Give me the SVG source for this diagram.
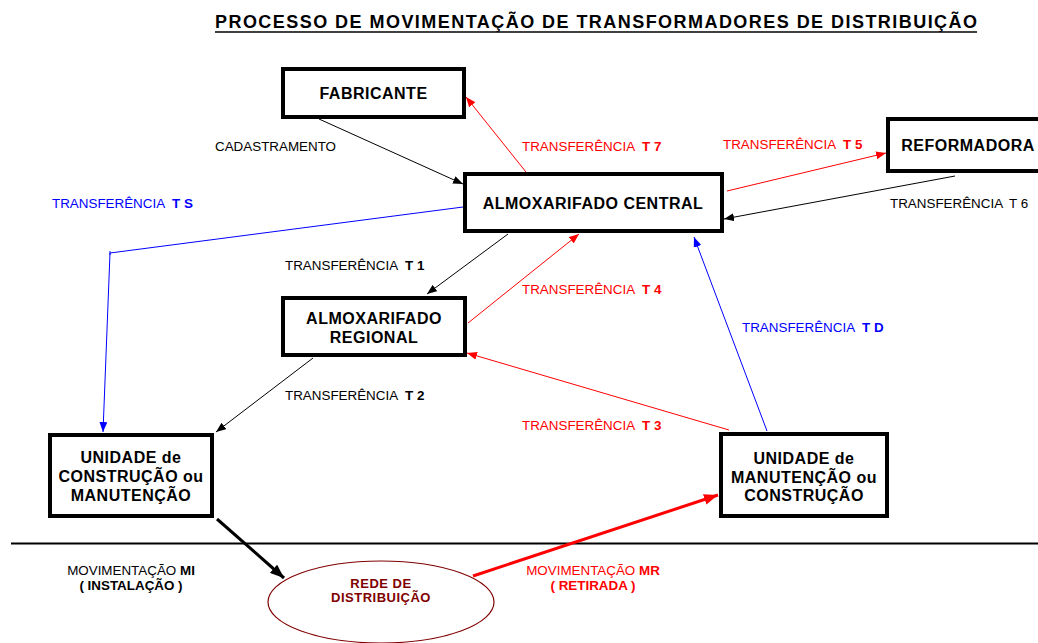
<svg xmlns="http://www.w3.org/2000/svg" width="1038" height="643" viewBox="0 0 1038 643">
<style>
.box{fill:#fff;stroke:#000;stroke-width:4}
.nt{font-family:"Liberation Sans",Arial,sans-serif;font-size:16px;font-weight:bold;letter-spacing:0.5px;fill:#000;text-anchor:middle}
.lb{font-family:"Liberation Sans",Arial,sans-serif;font-size:13.4px;fill:#000}
.b{font-weight:bold}
.red{fill:#ff0000}
.blue{fill:#0000ff}
.c{text-anchor:middle}
.ln{fill:none;stroke-width:1}
</style>
<defs>
<marker id="ak" markerUnits="userSpaceOnUse" markerWidth="10" markerHeight="8" refX="10" refY="4" orient="auto"><path d="M0,0 L10,4 L0,8 z" fill="#000"/></marker>
<marker id="ar" markerUnits="userSpaceOnUse" markerWidth="10" markerHeight="8" refX="10" refY="4" orient="auto"><path d="M0,0 L10,4 L0,8 z" fill="#ff0000"/></marker>
<marker id="ab" markerUnits="userSpaceOnUse" markerWidth="10" markerHeight="8" refX="10" refY="4" orient="auto"><path d="M0,0 L10,4 L0,8 z" fill="#0000ff"/></marker>
<marker id="akT" markerUnits="userSpaceOnUse" markerWidth="14" markerHeight="11" refX="14" refY="5.5" orient="auto"><path d="M0,0 L14,5.5 L0,11 z" fill="#000"/></marker>
<marker id="arT" markerUnits="userSpaceOnUse" markerWidth="14" markerHeight="11" refX="14" refY="5.5" orient="auto"><path d="M0,0 L14,5.5 L0,11 z" fill="#ff0000"/></marker>
</defs>
<rect width="1038" height="643" fill="#fff"/>

<g id="title">
<text x="215" y="28" font-family="'Liberation Sans',Arial,sans-serif" font-size="18" font-weight="bold" textLength="762" lengthAdjust="spacing">PROCESSO DE MOVIMENTAÇÃO DE TRANSFORMADORES DE DISTRIBUIÇÃO</text>
<line x1="215" y1="32" x2="977" y2="32" stroke="#000" stroke-width="1.5"/>
</g>

<line id="divider" x1="11" y1="543.5" x2="1038" y2="543.5" stroke="#000" stroke-width="2"/>

<g id="connectors">
<line class="ln" x1="319" y1="119" x2="463" y2="184" stroke="#000" marker-end="url(#ak)"/>
<line class="ln" x1="526" y1="172" x2="466" y2="97" stroke="#ff0000" marker-end="url(#ar)"/>
<line class="ln" x1="727" y1="191" x2="886" y2="153" stroke="#ff0000" marker-end="url(#ar)"/>
<line class="ln" x1="955" y1="176" x2="724" y2="219" stroke="#000" marker-end="url(#ak)"/>
<polyline class="ln" points="463,207 110,253 103,432" stroke="#0000ff" marker-end="url(#ab)"/>
<line x1="110" y1="251" x2="110" y2="255" stroke="#0000ff" stroke-width="1"/>
<line class="ln" x1="508" y1="234" x2="427" y2="294" stroke="#000" marker-end="url(#ak)"/>
<line class="ln" x1="468" y1="323" x2="579" y2="234" stroke="#ff0000" marker-end="url(#ar)"/>
<line class="ln" x1="313" y1="358" x2="216" y2="432" stroke="#000" marker-end="url(#ak)"/>
<line class="ln" x1="729" y1="430" x2="467" y2="353" stroke="#ff0000" marker-end="url(#ar)"/>
<line class="ln" x1="767" y1="431" x2="694" y2="237" stroke="#0000ff" marker-end="url(#ab)"/>
<line x1="217" y1="519" x2="284" y2="578" stroke="#000" stroke-width="3" marker-end="url(#akT)"/>
<line x1="473" y1="576" x2="718" y2="495" stroke="#ff0000" stroke-width="3" marker-end="url(#arT)"/>
</g>

<g id="fabricante">
<rect class="box" x="283" y="69" width="181" height="48"/>
<text class="nt" x="373.5" y="99">FABRICANTE</text>
</g>
<g id="almox-central">
<rect class="box" x="465" y="174" width="257" height="57"/>
<text class="nt" x="593" y="209">ALMOXARIFADO CENTRAL</text>
</g>
<g id="reformadora">
<rect class="box" x="888" y="119" width="160" height="52"/>
<text class="nt" x="968" y="151">REFORMADORA</text>
</g>
<g id="almox-regional">
<rect class="box" x="283" y="298" width="182" height="57"/>
<text class="nt" x="374" y="324">ALMOXARIFADO</text>
<text class="nt" x="374" y="343">REGIONAL</text>
</g>
<g id="unidade-construcao">
<rect class="box" x="50" y="435" width="162" height="81"/>
<text class="nt" x="131" y="463">UNIDADE de</text>
<text class="nt" x="131" y="482">CONSTRUÇÃO ou</text>
<text class="nt" x="131" y="501">MANUTENÇÃO</text>
</g>
<g id="unidade-manutencao">
<rect class="box" x="721" y="434" width="166" height="82"/>
<text class="nt" x="804" y="464">UNIDADE de</text>
<text class="nt" x="804" y="483">MANUTENÇÃO ou</text>
<text class="nt" x="804" y="501">CONSTRUÇÃO</text>
</g>
<g id="rede">
<ellipse cx="381" cy="602" rx="113" ry="41" fill="none" stroke="#800000" stroke-width="1.2"/>
<text x="381" y="588" font-family="'Liberation Sans',Arial,sans-serif" font-size="13" font-weight="bold" letter-spacing="0.5" fill="#800000" text-anchor="middle">REDE DE</text>
<text x="381" y="602" font-family="'Liberation Sans',Arial,sans-serif" font-size="13" font-weight="bold" letter-spacing="0.5" fill="#800000" text-anchor="middle">DISTRIBUIÇÃO</text>
</g>

<g id="labels">
<text class="lb" x="215" y="151">CADASTRAMENTO</text>
<text class="lb red" x="522" y="151">TRANSFERÊNCIA<tspan class="b" dx="7">T 7</tspan></text>
<text class="lb red" x="723" y="149">TRANSFERÊNCIA<tspan class="b" dx="7">T 5</tspan></text>
<text class="lb" x="890" y="208">TRANSFERÊNCIA<tspan dx="7">T 6</tspan></text>
<text class="lb blue" x="52" y="208">TRANSFERÊNCIA<tspan class="b" dx="7">T S</tspan></text>
<text class="lb" x="285" y="270">TRANSFERÊNCIA<tspan class="b" dx="7">T 1</tspan></text>
<text class="lb red" x="522" y="294">TRANSFERÊNCIA<tspan class="b" dx="7">T 4</tspan></text>
<text class="lb" x="285" y="400">TRANSFERÊNCIA<tspan class="b" dx="7">T 2</tspan></text>
<text class="lb red" x="522" y="430">TRANSFERÊNCIA<tspan class="b" dx="7">T 3</tspan></text>
<text class="lb blue" x="742" y="332">TRANSFERÊNCIA<tspan class="b" dx="7">T D</tspan></text>
<text class="lb c" x="131" y="575">MOVIMENTAÇÃO <tspan class="b">MI</tspan></text>
<text class="lb c b" x="131" y="590">( INSTALAÇÃO )</text>
<text class="lb c red" x="593" y="575">MOVIMENTAÇÃO <tspan class="b">MR</tspan></text>
<text class="lb c red b" x="593" y="590">( RETIRADA )</text>
</g>
</svg>
